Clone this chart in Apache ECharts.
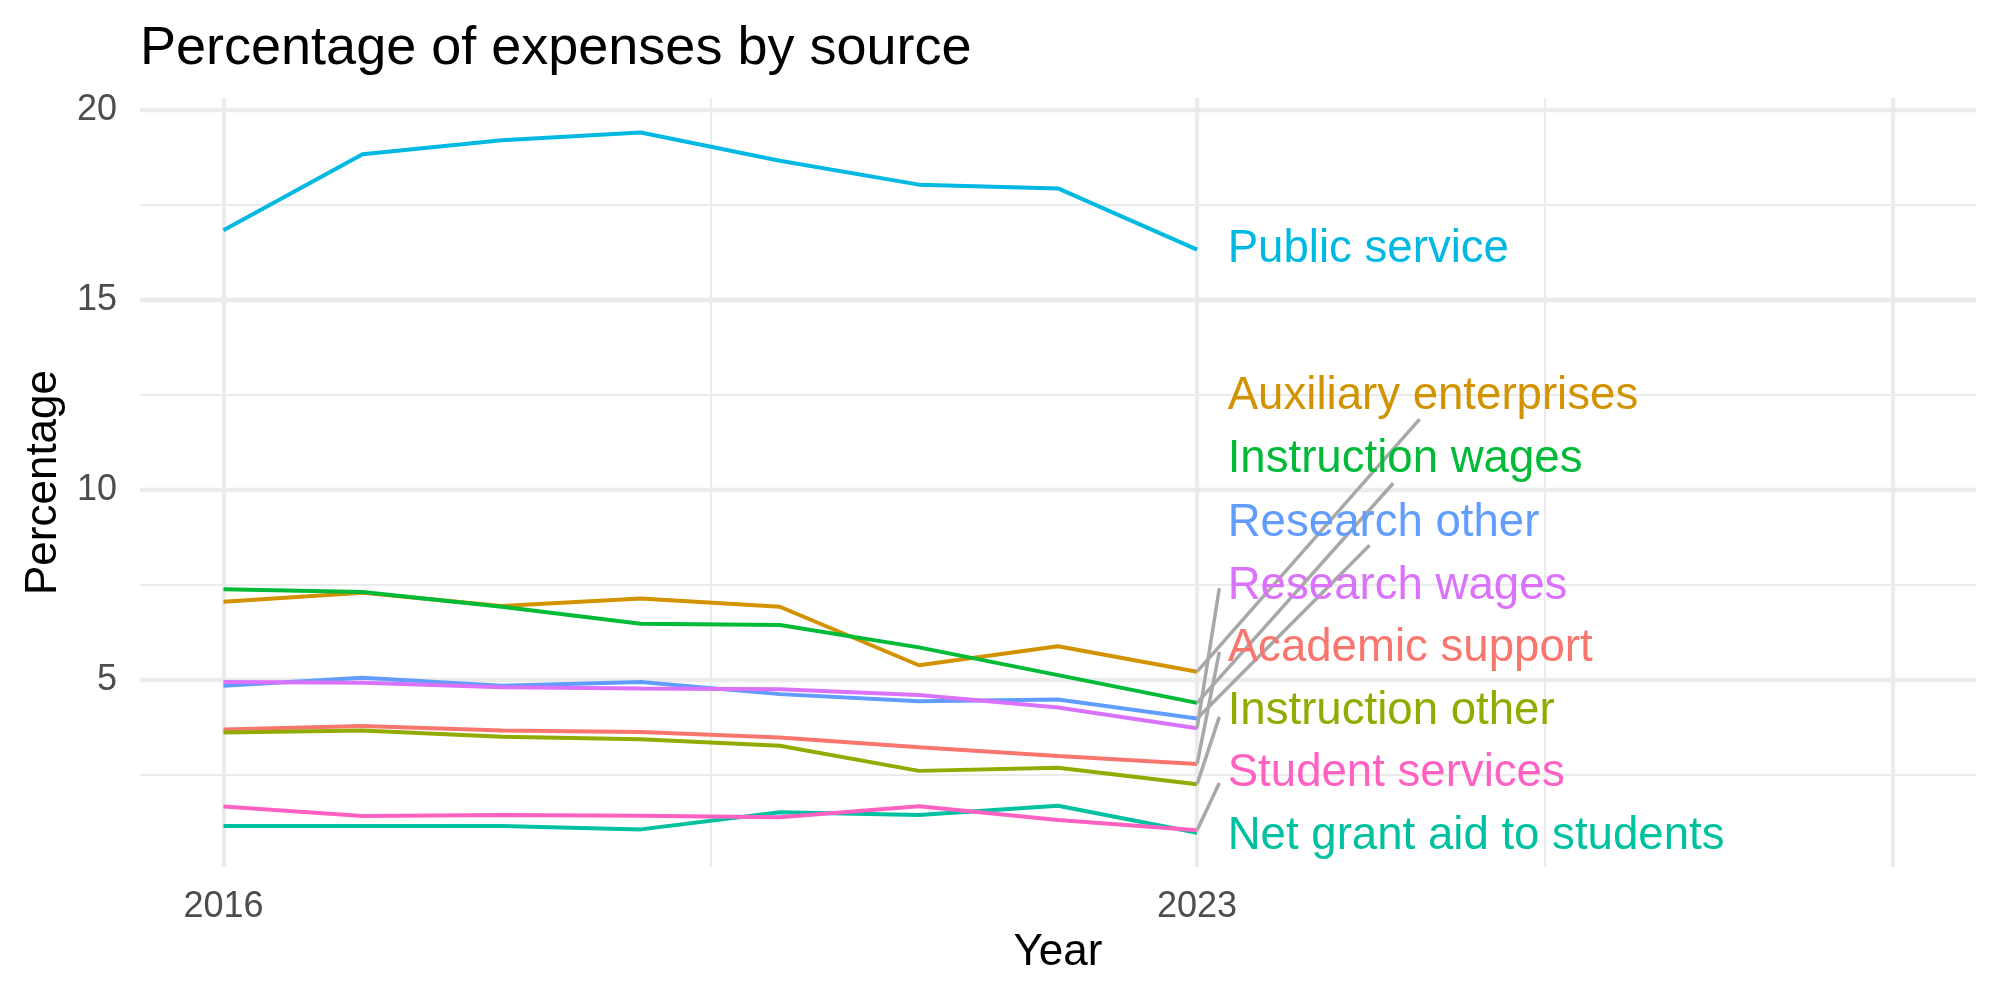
<!DOCTYPE html>
<html>
<head>
<meta charset="utf-8">
<title>Percentage of expenses by source</title>
<script src="https://cdn.jsdelivr.net/npm/echarts@6/dist/echarts.min.js"></script>
<style>
  html, body { margin: 0; padding: 0; background: #fff; }
  #chart { width: 2000px; height: 1000px; }
</style>
</head>
<body>
<div id="chart"></div>
<script>
// data
const years = [2016, 2017, 2018, 2019, 2020, 2021, 2022, 2023]
const sources = [
  'Academic support', 'Auxiliary enterprises', 'Instruction other', 'Instruction wages',
  'Net grant aid to students', 'Public service', 'Research other', 'Research wages', 'Student services'
]
const academicSupport = [3.70, 3.79, 3.67, 3.63, 3.49, 3.23, 3.00, 2.79]
const auxiliaryEnterprises = [7.06, 7.30, 6.95, 7.15, 6.93, 5.39, 5.89, 5.22]
const instructionOther = [3.62, 3.67, 3.51, 3.44, 3.27, 2.61, 2.69, 2.26]
const instructionWages = [7.39, 7.32, 6.93, 6.48, 6.45, 5.86, 5.13, 4.40]
const netGrantAid = [1.16, 1.16, 1.16, 1.07, 1.52, 1.45, 1.69, 0.98]
const publicService = [16.84, 18.84, 19.21, 19.41, 18.67, 18.04, 17.94, 16.33]
const researchOther = [4.85, 5.06, 4.85, 4.95, 4.63, 4.44, 4.49, 3.99]
const researchWages = [4.95, 4.93, 4.81, 4.78, 4.76, 4.61, 4.28, 3.73]
const studentServices = [1.67, 1.42, 1.45, 1.43, 1.39, 1.68, 1.32, 1.05]
const values = [
  academicSupport, auxiliaryEnterprises, instructionOther, instructionWages,
  netGrantAid, publicService, researchOther, researchWages, studentServices
]
const xTickLabels = [2016, 2023]
const yTickLabels = [5, 10, 15, 20]

// repelled label layout (data units)
const labelX = 2023.22
const labelY = [5.84, 12.47, 4.18, 10.82, 0.89, 16.33, 9.13, 7.47, 2.53]
const segmentEnd = [
  [2023.16, 5.74], [2024.60, 11.87], [2023.16, 4.03], [2024.41, 10.18],
  null, null, [2024.24, 8.55], [2023.16, 7.42], [2023.16, 2.29]
]

const colors = ['#F8766D', '#D39200', '#93AA00', '#00BA38', '#00C19F', '#00B9E3', '#619CFF', '#DB72FB', '#FF61C3']
const font = "'Liberation Sans', Arial, sans-serif"

const chart = echarts.init(document.getElementById('chart'))

const gridLines = {
  silent: true,
  symbol: 'none',
  z: 1,
  animation: false,
  label: { show: false },
  data: [
    ...[5, 10, 15, 20].map(v => ({ yAxis: v, lineStyle: { color: '#ebebeb', width: 4.3, type: 'solid' } })),
    ...[2.5, 7.5, 12.5, 17.5].map(v => ({ yAxis: v, lineStyle: { color: '#ebebeb', width: 2.1, type: 'solid' } })),
    ...[2016, 2023, 2028].map(v => ({ xAxis: v, lineStyle: { color: '#ebebeb', width: 4.3, type: 'solid' } })),
    ...[2019.5, 2025.5].map(v => ({ xAxis: v, lineStyle: { color: '#ebebeb', width: 2.1, type: 'solid' } }))
  ]
}

const lineSeries = sources.map((name, i) => ({
  name: name,
  type: 'line',
  z: 3,
  showSymbol: false,
  symbol: 'none',
  lineStyle: { color: colors[i], width: 4 },
  data: years.map((y, k) => [y, values[i][k]]),
  markLine: i === 0 ? gridLines : undefined
}))

const segments = []
sources.forEach((name, i) => {
  if (segmentEnd[i]) {
    segments.push({ coords: [[2023, values[i][values[i].length - 1]], segmentEnd[i]] })
  }
})

const option = {
  animation: false,
  backgroundColor: '#ffffff',
  textStyle: { fontFamily: font },
  title: {
    text: 'Percentage of expenses by source',
    left: 140,
    top: 22,
    padding: 0,
    textStyle: { fontSize: 54, fontWeight: 'normal', color: '#000000', fontFamily: font }
  },
  grid: { left: 140, right: 24, top: 98, bottom: 133 },
  xAxis: {
    type: 'value',
    min: 2015.4,
    max: 2028.6,
    name: 'Year',
    nameLocation: 'middle',
    nameGap: 64,
    nameTextStyle: { fontSize: 44, color: '#000000', fontFamily: font },
    axisLine: { show: false },
    axisTick: { show: false },
    splitLine: { show: false },
    axisLabel: {
      customValues: xTickLabels,
      formatter: v => String(v),
      fontSize: 36,
      color: '#4d4d4d',
      margin: 22,
      fontFamily: font
    }
  },
  yAxis: {
    type: 'value',
    min: 0.08,
    max: 20.32,
    name: 'Percentage',
    nameLocation: 'middle',
    nameGap: 74,
    nameTextStyle: { fontSize: 44, color: '#000000', fontFamily: font },
    axisLine: { show: false },
    axisTick: { show: false },
    splitLine: { show: false },
    axisLabel: {
      customValues: yTickLabels,
      formatter: v => String(v),
      fontSize: 36,
      color: '#4d4d4d',
      margin: 23,
      padding: [9, 0, 0, 0],
      fontFamily: font
    }
  },
  series: [
    ...lineSeries,
    {
      name: 'segments',
      type: 'lines',
      coordinateSystem: 'cartesian2d',
      z: 4,
      silent: true,
      lineStyle: { color: '#a8a8a8', width: 3.5, opacity: 1 },
      data: segments
    },
    {
      name: 'labels',
      type: 'scatter',
      z: 5,
      silent: true,
      symbolSize: 0,
      itemStyle: { opacity: 1 },
      label: {
        show: true,
        position: 'right',
        distance: 0,
        formatter: '{b}',
        fontSize: 45.6,
        opacity: 1,
        fontFamily: font
      },
      data: sources.map((name, i) => ({
        name: name,
        value: [labelX, labelY[i]],
        label: { color: colors[i] }
      }))
    }
  ]
}

chart.setOption(option)
window.addEventListener('resize', () => chart.resize())
</script>
</body>
</html>
